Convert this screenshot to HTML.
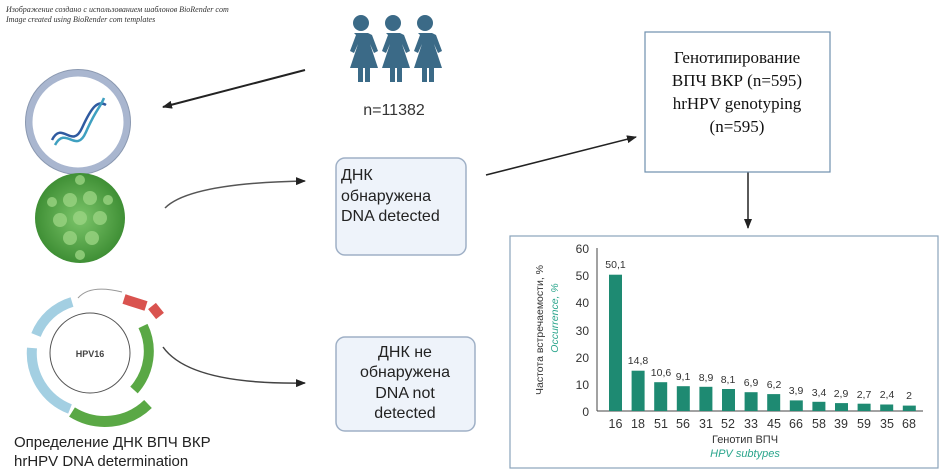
<!DOCTYPE html>
<html><head><meta charset="utf-8"><style>
body{margin:0;width:949px;height:471px;background:#fff;overflow:hidden}
svg{display:block}
</style></head><body>
<svg width="949" height="471" viewBox="0 0 949 471" xmlns="http://www.w3.org/2000/svg">
<defs>
<marker id="ah" markerWidth="10" markerHeight="8" refX="9" refY="4" orient="auto" markerUnits="userSpaceOnUse"><path d="M0,0 L10,4 L0,8 Z" fill="#222"/></marker>
<radialGradient id="vg" cx="50%" cy="50%" r="50%"><stop offset="0" stop-color="#7cc56a"/><stop offset="1" stop-color="#3f8f35"/></radialGradient>
</defs>
<g font-family="Liberation Serif, serif" font-style="italic" font-size="8" fill="#333">
<text x="6" y="12">Изображение создано с использованием шаблонов BioRender com</text>
<text x="6" y="22">Image created using BioRender com templates</text>
</g>
<!-- people -->
<g fill="#3b6a87">
<g id="p"><circle cx="361" cy="23" r="8"/><path d="M354,33 h14 l4,2 l6,16 l-4,2 l-4,-9 l8,24 h-8 v14 h-5 v-14 h-2 v14 h-5 v-14 h-8 l8,-24 l-4,9 l-4,-2 l6,-16 z"/></g>
<use href="#p" x="32"/><use href="#p" x="64"/>
</g>
<text x="394" y="115" font-family="Liberation Sans, sans-serif" font-size="16" fill="#333" text-anchor="middle">n=11382</text>
<!-- arrows -->
<line x1="305" y1="70" x2="163" y2="107" stroke="#222" stroke-width="2" marker-end="url(#ah)"/>
<path d="M165,208 Q190,183 305,181" fill="none" stroke="#555" stroke-width="1.5" marker-end="url(#ah)"/>
<path d="M163,347 Q190,385 305,383" fill="none" stroke="#444" stroke-width="1.5" marker-end="url(#ah)"/>
<line x1="486" y1="175" x2="636" y2="137" stroke="#222" stroke-width="1.5" marker-end="url(#ah)"/>
<line x1="748" y1="172" x2="748" y2="228" stroke="#222" stroke-width="1.5" marker-end="url(#ah)"/>
<!-- DNA circle -->
<circle cx="78" cy="122" r="49" fill="#fff" stroke="#a9b6cf" stroke-width="7"/>
<circle cx="78" cy="122" r="52.5" fill="none" stroke="#8a98b0" stroke-width="1"/>
<path d="M52,140 C62,120 72,150 82,128 S98,100 106,105" fill="none" stroke="#2f5aa0" stroke-width="2.5"/>
<path d="M55,145 C66,125 76,155 86,132 S100,108 104,98" fill="none" stroke="#3fa0c0" stroke-width="2.5"/>
<!-- virus -->
<circle cx="80" cy="218" r="45" fill="url(#vg)"/>
<g fill="#9ad482" opacity="0.8">
<circle cx="70" cy="200" r="7"/><circle cx="90" cy="198" r="7"/><circle cx="60" cy="220" r="7"/><circle cx="80" cy="218" r="7"/><circle cx="100" cy="218" r="7"/><circle cx="70" cy="238" r="7"/><circle cx="92" cy="238" r="7"/><circle cx="52" cy="202" r="5"/><circle cx="108" cy="200" r="5"/><circle cx="80" cy="180" r="5"/><circle cx="80" cy="255" r="5"/>
</g>
<!-- plasmid -->
<circle cx="90" cy="353" r="40" fill="#fff" stroke="#555" stroke-width="1"/>
<text x="90" y="357" font-family="Liberation Sans, sans-serif" font-size="9" font-weight="bold" fill="#444" text-anchor="middle">HPV16</text>
<g fill="none" stroke-width="10">
<path d="M72,302 A56,56 0 0 0 36,335" stroke="#a3cfe2"/>
<path d="M32,348 A60,60 0 0 0 70,409" stroke="#a3cfe2"/>
<path d="M143,326 A58,58 0 0 1 134,390" stroke="#5aa845"/>
<path d="M72,412 A62,62 0 0 0 148,404" stroke="#5aa845" stroke-width="11"/>
<path d="M124,299 L146,306" stroke="#d9534f"/>
<path d="M152,306 L160,316" stroke="#d9534f"/>
</g>
<path d="M78,298 Q90,284 122,292" fill="none" stroke="#999" stroke-width="1"/>
<g font-family="Liberation Sans, sans-serif" font-size="15" fill="#222">
<text x="14" y="447">Определение ДНК ВПЧ ВКР</text>
<text x="14" y="466">hrHPV DNA determination</text>
</g>
<!-- boxes -->
<rect x="336" y="158" width="130" height="97" rx="9" fill="#eef3fa" stroke="#9fb0c6" stroke-width="1.5"/>
<g font-family="Liberation Sans, sans-serif" font-size="16" fill="#222">
<text x="341" y="180">ДНК</text><text x="341" y="201">обнаружена</text><text x="341" y="221">DNA detected</text>
</g>
<rect x="336" y="337" width="139" height="94" rx="9" fill="#eef3fa" stroke="#9fb0c6" stroke-width="1.5"/>
<g font-family="Liberation Sans, sans-serif" font-size="16" fill="#222" text-anchor="middle">
<text x="405" y="357">ДНК не</text><text x="405" y="377">обнаружена</text><text x="405" y="398">DNA not</text><text x="405" y="418">detected</text>
</g>
<rect x="645" y="32" width="185" height="140" fill="#fff" stroke="#6f8fae" stroke-width="1.2"/>
<g font-family="Liberation Serif, serif" font-size="17" fill="#111" text-anchor="middle">
<text x="737" y="63">Генотипирование</text><text x="737" y="86">ВПЧ ВКР (n=595)</text><text x="737" y="109">hrHPV genotyping</text><text x="737" y="132">(n=595)</text>
</g>
<!-- chart -->
<rect x="510" y="236" width="428" height="232" fill="#fff" stroke="#8aa3bb" stroke-width="1.2"/>
<g stroke="#444" stroke-width="1"><line x1="597" y1="248" x2="597" y2="411"/><line x1="597" y1="411" x2="923" y2="411"/></g>
<g font-family="Liberation Sans, sans-serif" font-size="12" fill="#333" text-anchor="end">
<text x="589" y="253">60</text><text x="589" y="280">50</text><text x="589" y="307">40</text><text x="589" y="335">30</text><text x="589" y="362">20</text><text x="589" y="389">10</text><text x="589" y="416">0</text>
</g>
<g fill="#1e8a72">
<rect x="609" y="274.7" width="13" height="136.3"/>
<rect x="631.6" y="370.7" width="13" height="40.3"/>
<rect x="654.2" y="382.2" width="13" height="28.8"/>
<rect x="676.8" y="386.2" width="13" height="24.8"/>
<rect x="699.4" y="386.8" width="13" height="24.2"/>
<rect x="722" y="389" width="13" height="22"/>
<rect x="744.6" y="392.2" width="13" height="18.8"/>
<rect x="767.2" y="394.1" width="13" height="16.9"/>
<rect x="789.8" y="400.4" width="13" height="10.6"/>
<rect x="812.4" y="401.8" width="13" height="9.2"/>
<rect x="835" y="403.1" width="13" height="7.9"/>
<rect x="857.6" y="403.7" width="13" height="7.3"/>
<rect x="880.2" y="404.5" width="13" height="6.5"/>
<rect x="902.8" y="405.6" width="13" height="5.4"/>
</g>
<g font-family="Liberation Sans, sans-serif" font-size="10.5" fill="#333" text-anchor="middle">
<text x="615.5" y="268">50,1</text><text x="638" y="364">14,8</text><text x="661" y="376">10,6</text><text x="683" y="380">9,1</text><text x="706" y="381">8,9</text><text x="728" y="383">8,1</text><text x="751" y="386">6,9</text><text x="774" y="388">6,2</text><text x="796" y="394">3,9</text><text x="819" y="396">3,4</text><text x="841" y="397">2,9</text><text x="864" y="398">2,7</text><text x="887" y="398">2,4</text><text x="909" y="399">2</text>
</g>
<g font-family="Liberation Sans, sans-serif" font-size="12.5" fill="#333" text-anchor="middle">
<text x="615.5" y="428">16</text><text x="638" y="428">18</text><text x="661" y="428">51</text><text x="683" y="428">56</text><text x="706" y="428">31</text><text x="728" y="428">52</text><text x="751" y="428">33</text><text x="774" y="428">45</text><text x="796" y="428">66</text><text x="819" y="428">58</text><text x="841" y="428">39</text><text x="864" y="428">59</text><text x="887" y="428">35</text><text x="909" y="428">68</text>
<text x="745" y="443" font-size="11">Генотип ВПЧ</text>
<text x="745" y="457" font-size="11" font-style="italic" fill="#2aa58c">HPV subtypes</text>
</g>
<text transform="translate(543,330) rotate(-90)" font-family="Liberation Sans, sans-serif" font-size="10.5" fill="#333" text-anchor="middle">Частота встречаемости, %</text>
<text transform="translate(558,318) rotate(-90)" font-family="Liberation Sans, sans-serif" font-size="10.5" font-style="italic" fill="#2aa58c" text-anchor="middle">Occurrence, %</text>
</svg>
</body></html>
